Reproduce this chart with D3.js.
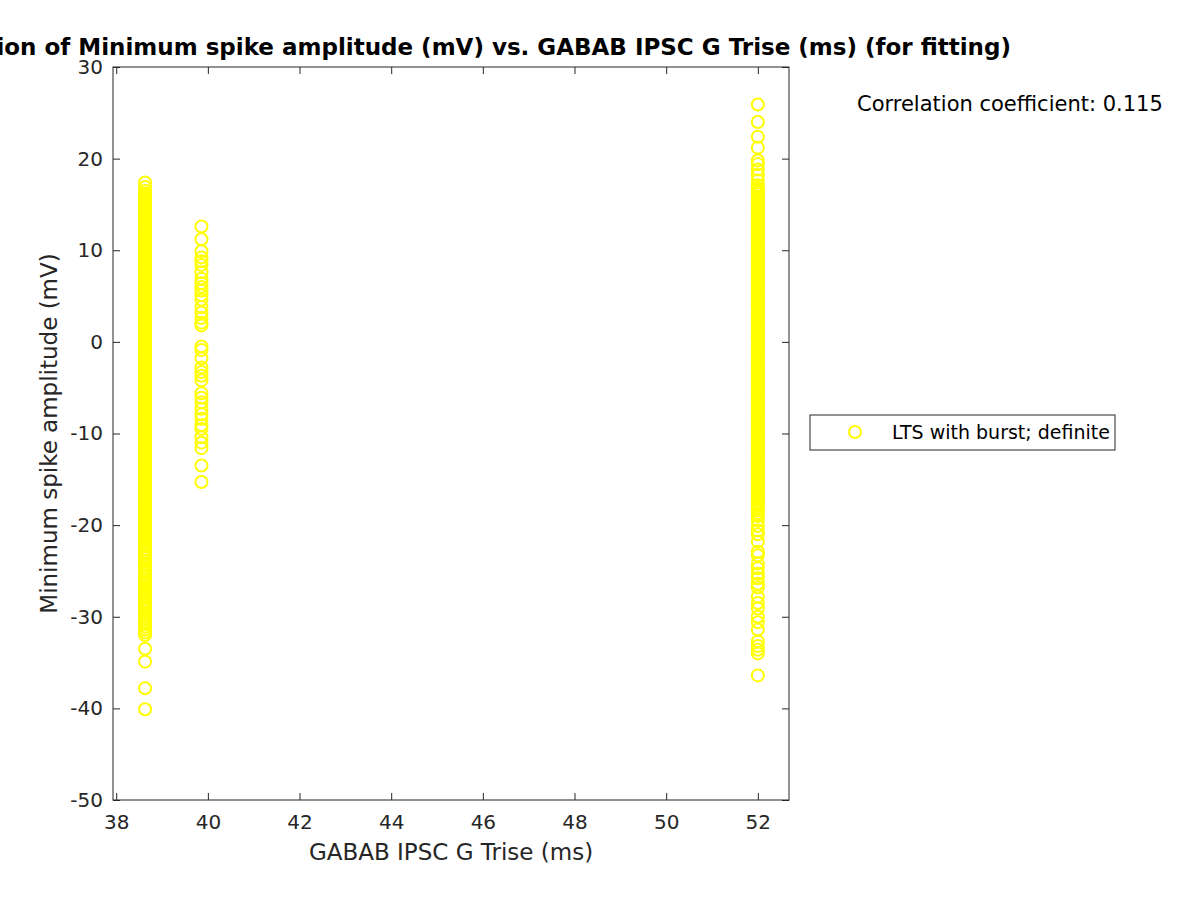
<!DOCTYPE html>
<html><head><meta charset="utf-8">
<script src="https://cdn.jsdelivr.net/npm/d3@7"></script>
<style>body{margin:0;background:#fff;} svg{display:block;font-family:"DejaVu Sans",sans-serif;}</style>
</head><body>
<svg id="chart" width="1200" height="900"></svg>
<script>
// ---- data ----
const title = "Correlation of Minimum spike amplitude (mV) vs. GABAB IPSC G Trise (ms) (for fitting)";
const xLabel = "GABAB IPSC G Trise (ms)";
const yLabel = "Minimum spike amplitude (mV)";
const legendLabel = "LTS with burst; definite";
const corrText = "Correlation coefficient: 0.115";
const xTicks = [38, 40, 42, 44, 46, 48, 50, 52];
const yTicks = [-50, -40, -30, -20, -10, 0, 10, 20, 30];
const xLimits = [37.93, 52.68];
const yLimits = [-50, 30];
const xGroups = [38.63, 39.86, 52.0];
const ampAt3863 = [17.4, 16.9, 16.5, 16.2, 16.0, 15.8, 15.6, 15.5, 15.3, 15.1, 14.9, 14.8, 14.6, 14.4, 14.2, 14.0, 13.9, 13.7, 13.5, 13.2, 13.1, 12.9, 12.8, 12.6, 12.4, 12.1, 12.0, 11.9, 11.7, 11.5, 11.2, 11.1, 11.0, 10.8, 10.6, 10.3, 10.2, 10.1, 9.9, 9.7, 9.4, 9.3, 9.2, 9.0, 8.8, 8.5, 8.4, 8.3, 8.1, 7.9, 7.6, 7.5, 7.4, 7.2, 7.0, 6.7, 6.6, 6.5, 6.3, 6.1, 5.8, 5.7, 5.6, 5.4, 5.2, 4.9, 4.8, 4.7, 4.5, 4.3, 4.0, 3.9, 3.8, 3.6, 3.4, 3.1, 3.0, 2.9, 2.7, 2.5, 2.2, 2.1, 2.0, 1.8, 1.6, 1.3, 1.2, 1.1, 0.9, 0.7, 0.4, 0.3, 0.2, 0.0, -0.2, -0.5, -0.6, -0.7, -0.9, -1.1, -1.4, -1.5, -1.6, -1.8, -2.0, -2.3, -2.4, -2.5, -2.7, -2.9, -3.2, -3.3, -3.4, -3.6, -3.8, -4.1, -4.2, -4.3, -4.5, -4.7, -5.0, -5.1, -5.2, -5.4, -5.6, -5.9, -6.0, -6.1, -6.3, -6.5, -6.8, -6.9, -7.0, -7.2, -7.4, -7.7, -7.8, -7.9, -8.1, -8.3, -8.6, -8.7, -8.8, -9.0, -9.2, -9.5, -9.6, -9.7, -9.9, -10.1, -10.4, -10.5, -10.6, -10.8, -11.0, -11.3, -11.4, -11.5, -11.7, -11.9, -12.2, -12.3, -12.4, -12.6, -12.8, -13.1, -13.2, -13.3, -13.5, -13.7, -14.0, -14.1, -14.2, -14.4, -14.6, -14.9, -15.0, -15.1, -15.3, -15.5, -15.8, -15.9, -16.0, -16.2, -16.4, -16.7, -16.8, -16.9, -17.1, -17.3, -17.6, -17.7, -17.8, -18.0, -18.2, -18.5, -18.6, -18.7, -18.9, -19.1, -19.4, -19.5, -19.6, -19.8, -20.0, -20.3, -20.4, -20.5, -20.7, -20.9, -21.2, -21.3, -21.4, -21.6, -21.8, -22.1, -22.3, -22.6, -22.9, -23.1, -23.4, -23.6, -23.9, -24.2, -24.4, -24.7, -25.0, -25.2, -25.5, -25.7, -26.0, -26.2, -26.4, -26.7, -26.9, -27.1, -27.3, -27.6, -27.8, -28.0, -28.3, -28.5, -28.8, -29.1, -29.3, -29.6, -29.9, -30.2, -30.5, -30.8, -31.1, -31.4, -31.7, -32.0, -33.5, -34.9, -37.8, -40.1];
const ampAt3986 = [12.6, 11.2, 9.9, 9.2, 8.8, 8.4, 7.6, 6.9, 6.4, 6.0, 5.6, 5.1, 4.6, 3.8, 3.2, 2.6, 2.1, 1.8, -0.5, -0.9, -1.8, -2.8, -3.3, -3.7, -4.2, -5.6, -6.1, -6.6, -7.3, -7.9, -8.4, -9.1, -9.5, -10.4, -11.0, -11.6, -13.5, -15.3];
const ampAt52 = [25.9, 24.0, 22.4, 21.2, 19.8, 19.4, 18.8, 18.2, 17.6, 17.1, 16.8, 16.6, 16.5, 16.3, 16.1, 15.8, 15.7, 15.6, 15.4, 15.2, 14.9, 14.8, 14.7, 14.5, 14.3, 14.0, 13.9, 13.8, 13.6, 13.4, 13.1, 13.0, 12.9, 12.7, 12.5, 12.2, 12.1, 12.0, 11.8, 11.6, 11.3, 11.2, 11.1, 10.9, 10.7, 10.4, 10.3, 10.2, 10.0, 9.8, 9.5, 9.4, 9.3, 9.1, 8.9, 8.6, 8.5, 8.4, 8.2, 8.0, 7.7, 7.6, 7.5, 7.3, 7.1, 6.8, 6.7, 6.6, 6.4, 6.2, 5.9, 5.8, 5.7, 5.5, 5.3, 5.0, 4.9, 4.8, 4.6, 4.4, 4.1, 4.0, 3.9, 3.7, 3.5, 3.2, 3.1, 3.0, 2.8, 2.6, 2.3, 2.2, 2.1, 1.9, 1.7, 1.4, 1.3, 1.2, 1.0, 0.8, 0.5, 0.4, 0.3, 0.1, -0.1, -0.4, -0.5, -0.6, -0.8, -1.0, -1.3, -1.4, -1.5, -1.7, -1.9, -2.2, -2.3, -2.4, -2.6, -2.8, -3.1, -3.2, -3.3, -3.5, -3.7, -4.0, -4.1, -4.2, -4.4, -4.6, -4.9, -5.0, -5.1, -5.3, -5.5, -5.8, -5.9, -6.0, -6.2, -6.4, -6.7, -6.8, -6.9, -7.1, -7.3, -7.6, -7.7, -7.8, -8.0, -8.2, -8.5, -8.6, -8.7, -8.9, -9.1, -9.4, -9.5, -9.6, -9.8, -10.0, -10.3, -10.4, -10.5, -10.7, -10.9, -11.2, -11.3, -11.4, -11.6, -11.8, -12.1, -12.2, -12.3, -12.5, -12.7, -13.0, -13.1, -13.2, -13.4, -13.6, -13.9, -14.0, -14.1, -14.3, -14.5, -14.8, -14.9, -15.0, -15.2, -15.4, -15.7, -15.8, -15.9, -16.1, -16.3, -16.6, -16.7, -16.8, -17.0, -17.2, -17.5, -17.6, -17.7, -17.9, -18.1, -18.4, -18.7, -19.0, -19.5, -20.1, -20.6, -21.0, -21.8, -22.9, -23.3, -24.2, -24.7, -25.3, -25.8, -26.4, -26.8, -27.8, -28.5, -29.1, -30.0, -30.6, -31.4, -32.7, -33.2, -33.6, -34.0, -36.4];

// ---- layout ----
const svg = d3.select("#chart");
const L = 113, R = 789, T = 67, B = 800;
const axisColor = "#262626";
const markerColor = "#ffff00";
const x = d3.scaleLinear().domain(xLimits).range([L, R]);
const y = d3.scaleLinear().domain(yLimits).range([B, T]);

const points = [];
[ampAt3863, ampAt3986, ampAt52].forEach((arr, i) => arr.forEach(v => points.push({x: xGroups[i], y: v})));

svg.append("g").selectAll("circle").data(points).join("circle")
  .attr("cx", d => x(d.x)).attr("cy", d => y(d.y)).attr("r", 6)
  .attr("fill", "none").attr("stroke", markerColor).attr("stroke-width", 2);

function styleAxis(g) {
  g.select(".domain").remove();
  g.selectAll("line").attr("stroke", axisColor);
  g.selectAll("text").attr("fill", axisColor).style("font-size", "20px").style("font-family", "DejaVu Sans, sans-serif")
    .text(function(){ return this.textContent.replace("\u2212", "-"); });
}
svg.append("g").attr("transform", `translate(0,${B})`)
  .call(d3.axisBottom(x).tickValues(xTicks).tickSize(-7).tickPadding(15).tickFormat(d3.format("d"))).call(styleAxis);
svg.append("g").attr("transform", `translate(0,${T})`)
  .call(d3.axisTop(x).tickValues(xTicks).tickSize(-7).tickFormat("")).call(styleAxis);
svg.append("g").attr("transform", `translate(${L},0)`)
  .call(d3.axisLeft(y).tickValues(yTicks).tickSize(-7).tickPadding(10).tickFormat(d3.format("d"))).call(styleAxis);
svg.append("g").attr("transform", `translate(${R},0)`)
  .call(d3.axisRight(y).tickValues(yTicks).tickSize(-7).tickFormat("")).call(styleAxis);

svg.append("rect").attr("x", L).attr("y", T).attr("width", R - L).attr("height", B - T)
  .attr("fill", "none").attr("stroke", axisColor).attr("stroke-width", 1);

svg.append("text").attr("x", (L + R) / 2).attr("y", 55).attr("text-anchor", "middle")
  .style("font-size", "23px").style("font-weight", "bold").attr("fill", "#000").text(title);
svg.append("text").attr("x", (L + R) / 2).attr("y", 860).attr("text-anchor", "middle")
  .style("font-size", "23px").attr("fill", axisColor).text(xLabel);
svg.append("text").attr("transform", `translate(57,${(T + B) / 2}) rotate(-90)`).attr("text-anchor", "middle")
  .style("font-size", "23px").attr("fill", axisColor).text(yLabel);

svg.append("text").attr("x", 857).attr("y", 111).style("font-size", "21px").attr("fill", "#000").text(corrText);

const lg = svg.append("g");
lg.append("rect").attr("x", 810).attr("y", 415).attr("width", 305).attr("height", 35)
  .attr("fill", "#fff").attr("stroke", axisColor).attr("stroke-width", 1);
lg.append("circle").attr("cx", 855).attr("cy", 432).attr("r", 6).attr("fill", "none")
  .attr("stroke", markerColor).attr("stroke-width", 2);
lg.append("text").attr("x", 892).attr("y", 439).style("font-size", "19px").attr("fill", "#000").text(legendLabel);
</script>
</body></html>
